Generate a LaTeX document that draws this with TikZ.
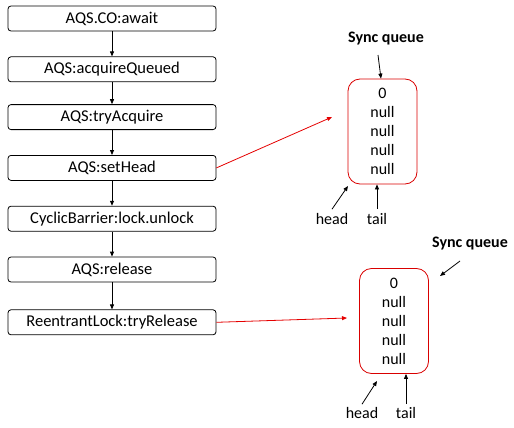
\documentclass[tikz,border=0pt]{standalone}
\usepackage{fontspec}
\setmainfont{Carlito}
\usetikzlibrary{positioning,arrows.meta}

\begin{document}
\begin{tikzpicture}[x=1pt, y=-1pt,
  node distance=25pt,
  call/.style={draw, line width=0.8pt, rounded corners=3pt, minimum width=208pt,
               minimum height=25pt, inner sep=0pt, font=\fontsize{16.5}{18}\selectfont},
  queue/.style={draw=red!85!black, line width=0.8pt, rounded corners=12pt, minimum width=69pt,
                minimum height=105pt, align=center, font=\fontsize{16}{19}\selectfont},
  tag/.style={font=\fontsize{16}{18}\selectfont, inner sep=1pt},
  title/.style={font=\fontsize{16}{18}\selectfont\bfseries, inner sep=1pt},
  arr/.style={-{Triangle[length=5pt, width=4pt]}, line width=0.8pt},
  redarr/.style={arr, red!90!black}
]
\useasboundingbox (0,0) rectangle (514,428);

% call chain
\node[call] (await) at (112,18.5) {AQS.CO:await};
\node[call, below=of await] (acq) {AQS:acquireQueued};
\node[call, below=22pt of acq] (try) {AQS:tryAcquire};
\node[call, below=of try] (sethead) {AQS:setHead};
\node[call, below=of sethead] (unlock) {CyclicBarrier:lock.unlock};
\node[call, below=of unlock] (release) {AQS:release};
\node[call, below=27pt of release] (tryrel) {ReentrantLock:tryRelease};
\draw[arr] (await) -- (acq);
\draw[arr] (acq) -- (try);
\draw[arr] (try) -- (sethead);
\draw[arr] (sethead) -- (unlock);
\draw[arr] (unlock) -- (release);
\draw[arr] (release) -- (tryrel);

% first sync queue
\node[queue] (q1) at (382.5,131.5) {0\\null\\null\\null\\null};
\node[title] (sync1) at (386,39) {Sync queue};
\node[tag] (head1) at (332,219) {head};
\node[tag] (tail1) at (377,219) {tail};
\coordinate (s1) at (378,55);
\coordinate (h1) at (348,186);
\coordinate (in1) at (332,117);
\draw[arr] (s1) -- ([xshift=-1.5pt]q1.north);
\draw[arr] ([yshift=3pt]head1.north) -- (h1);
\draw[arr] ([yshift=3pt]tail1.north) -- (tail1.north |- q1.south);
\draw[redarr] (sethead.east) -- (in1);

% second sync queue
\node[queue] (q2) at (394,321) {0\\null\\null\\null\\null};
\node[title] (sync2) at (470,244) {Sync queue};
\node[tag] (head2) at (362,413) {head};
\node[tag] (tail2) at (406,413) {tail};
\coordinate (s2) at (460,261);
\coordinate (n2) at (440,276);
\coordinate (h2) at (377,381);
\coordinate (in2) at (347,318);
\draw[arr] (s2) -- (n2);
\draw[arr] ([yshift=2pt]head2.north) -- (h2);
\draw[arr] ([yshift=2pt]tail2.north) -- (tail2.north |- q2.south);
\draw[redarr] (tryrel.east) -- (in2);
\end{tikzpicture}
\end{document}
